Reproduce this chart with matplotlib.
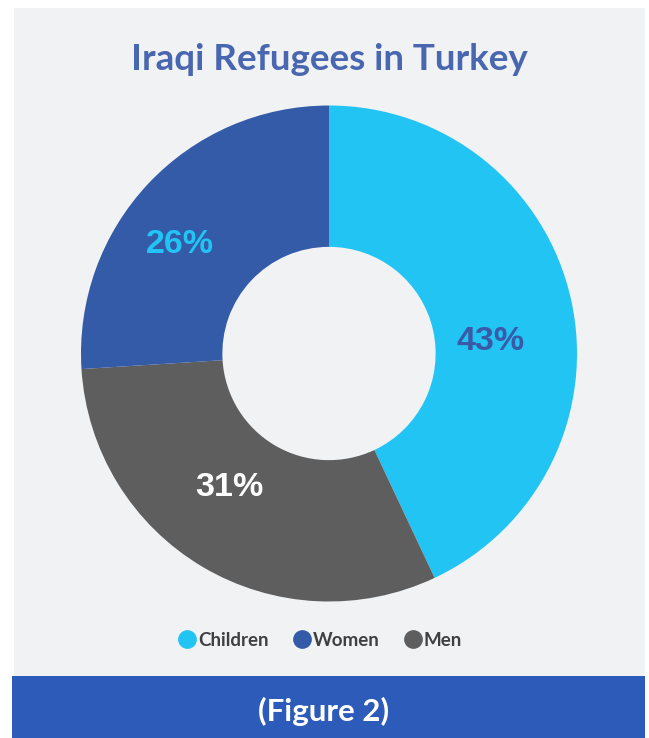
import matplotlib.pyplot as plt
from matplotlib.lines import Line2D
from matplotlib.patches import Rectangle

# Iraqi refugees in Turkey by group (%)
groups = ["Children", "Women", "Men"]
shares = [43, 26, 31]
colors = {"Children": "#22C4F4", "Women": "#345BA8", "Men": "#5E5E5E"}
label_colors = {"Children": "#3A5AA8", "Women": "#22C4F4", "Men": "#FFFFFF"}
# label positions in pie coordinates (radius = 1)
label_pos = {"Children": (0.65, 0.05), "Women": (-0.60, 0.44), "Men": (-0.40, -0.54)}

# wedges go clockwise from the top: children, men, women
draw_order = ["Children", "Men", "Women"]

W, H = 649, 738
fig = plt.figure(figsize=(W / 100, H / 100), dpi=100)
fig.patch.set_facecolor("white")

# light panel and blue caption bar
fig.patches.append(Rectangle((14 / W, (H - 676) / H), (645 - 14) / W, (676 - 8) / H,
                             transform=fig.transFigure, facecolor="#F1F2F4",
                             edgecolor="none", zorder=-2))
fig.patches.append(Rectangle((12 / W, 0), (645 - 12) / W, (H - 676) / H,
                             transform=fig.transFigure, facecolor="#2C5BB9",
                             edgecolor="none", zorder=-2))

cx, cy, r = 329, 353.5, 248
ax = fig.add_axes([(cx - r) / W, (H - cy - r) / H, 2 * r / W, 2 * r / H])
ax.set_facecolor("none")
ax.set_zorder(1)

vals = [shares[groups.index(g)] for g in draw_order]
ax.pie(vals, colors=[colors[g] for g in draw_order], startangle=90,
       counterclock=False, radius=1,
       wedgeprops=dict(width=0.57, edgecolor="none"))
ax.set_xlim(-1, 1)
ax.set_ylim(-1, 1)
ax.set_aspect("equal")
ax.axis("off")

for g, v in zip(groups, shares):
    x, y = label_pos[g]
    ax.text(x, y, f"{v}%", ha="center", va="center", fontsize=24.5,
            fontweight="bold", family="Liberation Sans", color=label_colors[g])

fig.text(cx / W, 1 - 60 / H, "Iraqi Refugees in Turkey", ha="center", va="center",
         fontsize=26.5, fontweight="bold", family="Lato", color="#4967B0")

handles = [Line2D([], [], marker="o", linestyle="none", markersize=13.5,
                  markerfacecolor=colors[g], markeredgecolor="none") for g in groups]
leg = fig.legend(handles, groups, loc="center", bbox_to_anchor=(320 / W, 1 - 640 / H),
                 ncol=3, frameon=False, handletextpad=0.1, columnspacing=1.25,
                 handlelength=1.0, prop=dict(family="Lato", weight="bold", size=13.5))
for t in leg.get_texts():
    t.set_color("#404040")

fig.text(324 / W, 1 - 711 / H, "(Figure 2)", ha="center", va="center",
         fontsize=22.5, fontweight="bold", family="Lato", color="white")

fig.savefig("out.png", dpi=100, facecolor=fig.get_facecolor())
